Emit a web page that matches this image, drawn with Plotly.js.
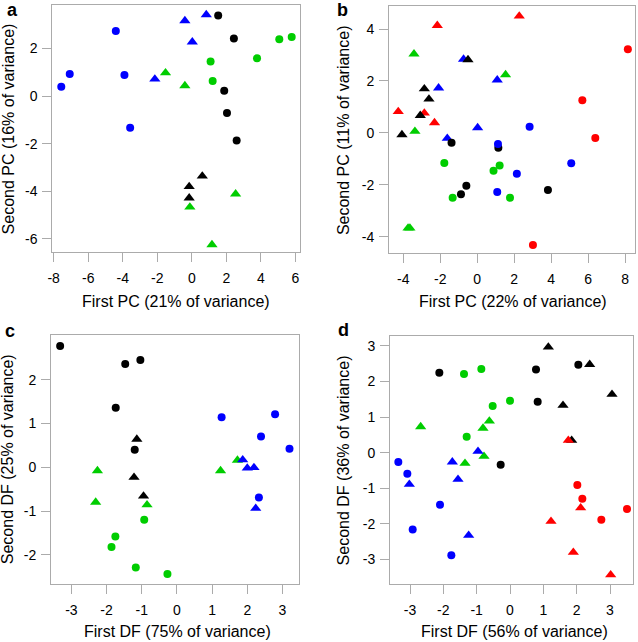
<!DOCTYPE html>
<html>
<head>
<meta charset="utf-8">
<script src="https://cdn.plot.ly/plotly-3.0.1.min.js"></script>
<style>
html,body{margin:0;padding:0;background:#fff;}
#chart{width:638px;height:642px;}
</style>
</head>
<body>
<div id="chart"></div>
<script>
// ---------------- Panel a: First PC vs Second PC ----------------
const aBlueCircX = [-7.56, -7.07, -4.40, -3.90, -3.57];
const aBlueCircY = [0.39, 0.92, 2.73, 0.88, -1.33];
const aBlueTriX  = [-0.40, 0.84, 0.03, -2.14];
const aBlueTriY  = [3.16, 3.41, 2.27, 0.71];
const aBlackCircX = [1.53, 2.44, 1.88, 2.04, 2.60];
const aBlackCircY = [3.38, 2.41, 0.22, -0.71, -1.87];
const aBlackTriX  = [0.61, -0.15, -0.15];
const aBlackTriY  = [-3.36, -3.80, -4.28];
const aGreenCircX = [1.09, 1.21, 3.78, 5.07, 5.79];
const aGreenCircY = [1.45, 0.63, 1.58, 2.38, 2.48];
const aGreenTriX  = [-1.52, -0.40, -0.11, 2.54, 1.17];
const aGreenTriY  = [0.97, 0.43, -4.66, -4.11, -6.24];

// ---------------- Panel b ----------------
const bRedTriX = [2.27, -2.16, -4.27, -2.86, -2.31];
const bRedTriY = [4.50, 4.14, 0.82, 0.76, 0.39];
const bRedCircX = [8.14, 5.68, 6.38, 3.01];
const bRedCircY = [3.22, 1.26, -0.20, -4.32];
const bGreenTriX = [-3.42, 1.53, -3.37, -3.74, -3.64];
const bGreenTriY = [3.04, 2.24, 0.06, -3.67, -3.67];
const bBlueTriX = [-0.74, 1.08, -2.09, 0.02, -1.62];
const bBlueTriY = [2.84, 2.04, 1.73, 0.20, -0.21];
const bBlackTriX = [-0.50, -2.86, -2.61, -3.08, -4.07];
const bBlackTriY = [2.82, 1.70, 1.30, 0.67, -0.07];
const bBlackCircX = [-1.39, 1.14, -0.59, -0.88, 3.82];
const bBlackCircY = [-0.38, -0.57, -2.04, -2.36, -2.20];
const bBlueCircX = [2.83, 1.12, 5.08, 2.14, 1.08];
const bBlueCircY = [0.24, -0.43, -1.17, -1.57, -2.28];
const bGreenCircX = [-1.78, 1.21, 0.88, -1.33, 1.77];
const bGreenCircY = [-1.16, -1.26, -1.46, -2.50, -2.50];

// ---------------- Panel c ----------------
const cBlackCircX = [-3.32, -1.47, -1.04, -1.74, -1.20];
const cBlackCircY = [2.77, 2.36, 2.45, 1.36, 0.40];
const cBlackTriX = [-1.14, -1.22, -0.95];
const cBlackTriY = [0.64, -0.23, -0.66];
const cGreenTriX = [-2.26, -2.31, -0.85, 1.24, 1.72];
const cGreenTriY = [-0.08, -0.80, -0.86, -0.08, 0.16];
const cGreenCircX = [-0.93, -1.75, -1.86, -1.17, -0.27];
const cGreenCircY = [-1.20, -1.58, -1.82, -2.29, -2.44];
const cBlueCircX = [1.27, 2.79, 2.39, 3.20, 2.33];
const cBlueCircY = [1.14, 1.21, 0.70, 0.42, -0.69];
const cBlueTriX = [1.87, 2.00, 2.19, 2.24];
const cBlueTriY = [0.17, -0.02, -0.01, -0.94];

// ---------------- Panel d ----------------
const dBlackTriX = [1.15, 2.39, 3.06, 1.59, 1.85];
const dBlackTriY = [2.97, 2.48, 1.64, 1.33, 0.35];
const dBlackCircX = [-2.12, 0.78, 2.05, 0.83, -0.28];
const dBlackCircY = [2.25, 2.34, 2.47, 1.43, -0.34];
const dGreenCircX = [-1.38, -0.86, 0.00, -0.52, -1.30];
const dGreenCircY = [2.21, 2.35, 1.46, 1.31, 0.45];
const dGreenTriX = [-2.68, -0.62, -0.81, -1.35, -0.78];
const dGreenTriY = [0.73, 0.89, 0.69, -0.30, -0.10];
const dBlueTriX = [-0.96, -1.73, -1.56, -3.02, -1.24];
const dBlueTriY = [0.04, -0.26, -0.75, -0.89, -2.32];
const dBlueCircX = [-3.35, -3.08, -2.10, -2.92, -1.76];
const dBlueCircY = [-0.26, -0.59, -1.46, -2.16, -2.88];
const dRedTriX = [1.75, 1.23, 2.12, 1.90, 3.02];
const dRedTriY = [0.35, -1.93, -1.55, -2.80, -3.43];
const dRedCircX = [2.02, 2.17, 2.74, 3.51];
const dRedCircY = [-0.91, -1.29, -1.88, -1.58];

// ---------------- Tick labels ----------------
const aXTicks = [-8, -6, -4, -2, 0, 2, 4, 6];
const aXTickText = ['-8', '-6', '-4', '-2', '0', '2', '4', '6'];
const aYTicks = [-6, -4, -2, 0, 2];
const aYTickText = ['-6', '-4', '-2', '0', '2'];
const bXTicks = [-4, -2, 0, 2, 4, 6, 8];
const bXTickText = ['-4', '-2', '0', '2', '4', '6', '8'];
const bYTicks = [-4, -2, 0, 2, 4];
const bYTickText = ['-4', '-2', '0', '2', '4'];
const cXTicks = [-3, -2, -1, 0, 1, 2, 3];
const cXTickText = ['-3', '-2', '-1', '0', '1', '2', '3'];
const cYTicks = [-2, -1, 0, 1, 2];
const cYTickText = ['-2', '-1', '0', '1', '2'];
const dXTicks = [-3, -2, -1, 0, 1, 2, 3];
const dXTickText = ['-3', '-2', '-1', '0', '1', '2', '3'];
const dYTicks = [-3, -2, -1, 0, 1, 2, 3];
const dYTickText = ['-3', '-2', '-1', '0', '1', '2', '3'];

// ---------------- Titles ----------------
const panelLetters = ['a', 'b', 'c', 'd'];
const xTitles = ['First PC (21% of variance)', 'First PC (22% of variance)',
                 'First DF (75% of variance)', 'First DF (56% of variance)'];
const yTitles = ['Second PC (16% of variance)', 'Second PC (11% of variance)',
                 'Second DF (25% of variance)', 'Second DF (36% of variance)'];

// ---------------- Styling ----------------
const W = 638, H = 642;
const FONT = 'Liberation Sans, Arial, Helvetica, sans-serif';
const GRAY = '#ababab';
const BLUE = '#0000ff', GREEN = '#00cd00', BLACK = '#000000', RED = '#ff0000';
const CIRC = 8, TRI = 9.8;

function px2fx(p) { return p / W; }
function px2fy(p) { return 1 - p / H; }

function tr(x, y, color, sym, n) {
  return {
    type: 'scatter', mode: 'markers', x: x, y: y,
    xaxis: 'x' + (n === 1 ? '' : n), yaxis: 'y' + (n === 1 ? '' : n),
    marker: { color: color, symbol: sym, size: sym === 'circle' ? CIRC : TRI, line: { width: 0 } },
    hoverinfo: 'skip', showlegend: false
  };
}

const data = [
  tr(aBlueCircX, aBlueCircY, BLUE, 'circle', 1),
  tr(aBlueTriX, aBlueTriY, BLUE, 'triangle-up', 1),
  tr(aBlackCircX, aBlackCircY, BLACK, 'circle', 1),
  tr(aBlackTriX, aBlackTriY, BLACK, 'triangle-up', 1),
  tr(aGreenCircX, aGreenCircY, GREEN, 'circle', 1),
  tr(aGreenTriX, aGreenTriY, GREEN, 'triangle-up', 1),

  tr(bRedTriX, bRedTriY, RED, 'triangle-up', 2),
  tr(bRedCircX, bRedCircY, RED, 'circle', 2),
  tr(bGreenTriX, bGreenTriY, GREEN, 'triangle-up', 2),
  tr(bBlueTriX, bBlueTriY, BLUE, 'triangle-up', 2),
  tr(bBlackTriX, bBlackTriY, BLACK, 'triangle-up', 2),
  tr(bBlackCircX, bBlackCircY, BLACK, 'circle', 2),
  tr(bBlueCircX, bBlueCircY, BLUE, 'circle', 2),
  tr(bGreenCircX, bGreenCircY, GREEN, 'circle', 2),

  tr(cBlackCircX, cBlackCircY, BLACK, 'circle', 3),
  tr(cBlackTriX, cBlackTriY, BLACK, 'triangle-up', 3),
  tr(cGreenTriX, cGreenTriY, GREEN, 'triangle-up', 3),
  tr(cGreenCircX, cGreenCircY, GREEN, 'circle', 3),
  tr(cBlueCircX, cBlueCircY, BLUE, 'circle', 3),
  tr(cBlueTriX, cBlueTriY, BLUE, 'triangle-up', 3),

  tr(dBlackTriX, dBlackTriY, BLACK, 'triangle-up', 4),
  tr(dBlackCircX, dBlackCircY, BLACK, 'circle', 4),
  tr(dGreenCircX, dGreenCircY, GREEN, 'circle', 4),
  tr(dGreenTriX, dGreenTriY, GREEN, 'triangle-up', 4),
  tr(dBlueTriX, dBlueTriY, BLUE, 'triangle-up', 4),
  tr(dBlueCircX, dBlueCircY, BLUE, 'circle', 4),
  tr(dRedTriX, dRedTriY, RED, 'triangle-up', 4),
  tr(dRedCircX, dRedCircY, RED, 'circle', 4)
];

// plot boxes in pixels [left, right, top, bottom]
const boxes = [
  [52.3, 300, 5, 252.3],
  [389, 634.7, 6, 253.3],
  [51, 299, 335, 583.7],
  [390, 633, 336, 583.7]
];
const xRanges = [[-8.08, 6.27], [-4.77, 8.51], [-3.58, 3.47], [-3.6, 3.69]];
const yRanges = [[-6.56, 3.82], [-4.64, 4.89], [-2.66, 3.02], [-3.68, 3.28]];
const xTickSets = [[aXTicks, aXTickText], [bXTicks, bXTickText], [cXTicks, cXTickText], [dXTicks, dXTickText]];
const yTickSets = [[aYTicks, aYTickText], [bYTicks, bYTickText], [cYTicks, cYTickText], [dYTicks, dYTickText]];

function axisBase() {
  return {
    showline: true, mirror: true, linecolor: GRAY, linewidth: 1,
    showgrid: false, zeroline: false,
    ticks: 'outside', ticklen: 9, tickwidth: 1, tickcolor: GRAY,
    tickfont: { family: FONT, size: 14, color: '#000' },
    tickmode: 'array', fixedrange: true, automargin: false
  };
}

const layout = {
  width: W, height: H,
  margin: { l: 0, r: 0, t: 0, b: 0 },
  paper_bgcolor: '#fff', plot_bgcolor: '#fff',
  font: { family: FONT, color: '#000' },
  showlegend: false,
  annotations: []
};

for (let i = 0; i < 4; i++) {
  const n = i === 0 ? '' : String(i + 1);
  const b = boxes[i];
  const xa = axisBase();
  xa.domain = [px2fx(b[0]), px2fx(b[1])];
  xa.range = xRanges[i];
  xa.tickvals = xTickSets[i][0];
  xa.ticktext = xTickSets[i][1];
  xa.anchor = 'y' + n;
  xa.ticklabelstandoff = 4;
  const ya = axisBase();
  ya.domain = [px2fy(b[3]), px2fy(b[2])];
  ya.range = yRanges[i];
  ya.tickvals = yTickSets[i][0];
  ya.ticktext = yTickSets[i][1];
  ya.anchor = 'x' + n;
  ya.ticklabelstandoff = 2;
  layout['xaxis' + n] = xa;
  layout['yaxis' + n] = ya;
}

// annotation positions in pixels
const xTitlePos = [[176, 302], [512.5, 302], [177, 631], [514, 631]];
const yTitlePos = [[8.8, 128.6], [343.5, 129.6], [7.8, 459.4], [343.5, 459.9]];
// panel letters: [x, y, yanchor]
const letterPos = [[12, 0, 'top'], [342, 0, 'top'], [9.5, 330.6, 'middle'], [343, 330.4, 'middle']];

for (let i = 0; i < 4; i++) {
  layout.annotations.push({
    xref: 'paper', yref: 'paper', x: px2fx(xTitlePos[i][0]), y: px2fy(xTitlePos[i][1]),
    xanchor: 'center', yanchor: 'middle', showarrow: false, borderpad: 0, borderwidth: 0,
    text: xTitles[i], font: { family: FONT, size: 16, color: '#000' }
  });
  layout.annotations.push({
    xref: 'paper', yref: 'paper', x: px2fx(yTitlePos[i][0]), y: px2fy(yTitlePos[i][1]),
    xanchor: 'center', yanchor: 'middle', showarrow: false, textangle: -90, borderpad: 0, borderwidth: 0,
    text: yTitles[i], font: { family: FONT, size: 16, color: '#000' }
  });
  layout.annotations.push({
    xref: 'paper', yref: 'paper', x: px2fx(letterPos[i][0]), y: px2fy(letterPos[i][1]),
    xanchor: 'center', yanchor: letterPos[i][2], showarrow: false, borderpad: 0, borderwidth: 0,
    text: '<b>' + panelLetters[i] + '</b>', font: { family: FONT, size: 18, color: '#000' }
  });
}

Plotly.newPlot('chart', data, layout, { displayModeBar: false, staticPlot: true });
</script>
</body>
</html>
